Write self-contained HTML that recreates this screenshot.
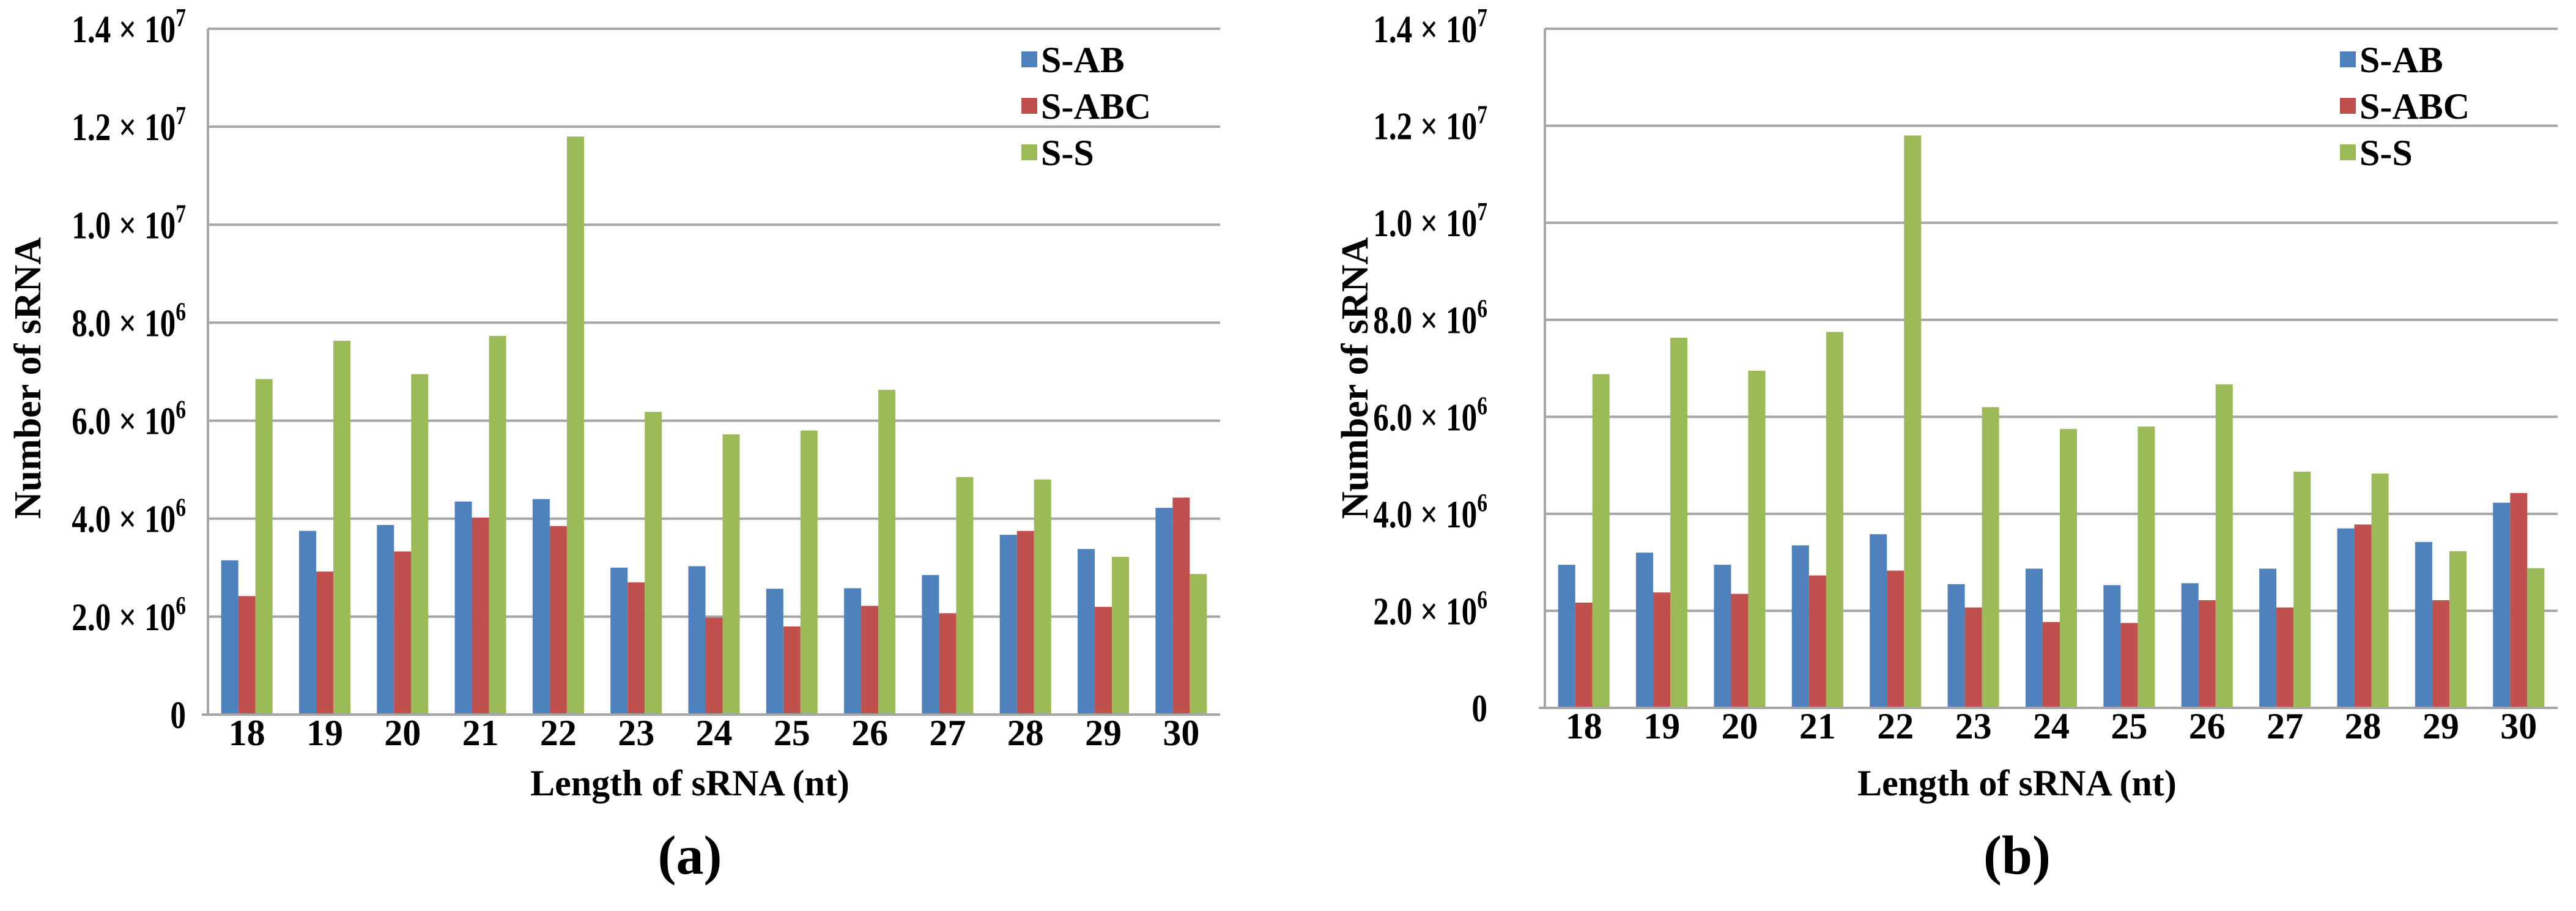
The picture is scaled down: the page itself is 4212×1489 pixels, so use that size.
<!DOCTYPE html>
<html><head><meta charset="utf-8"><style>
html,body{margin:0;padding:0;background:#fff;}
svg{display:block;font-family:"Liberation Serif",serif;font-weight:bold;}
</style></head><body>
<svg id="fig" width="4212" height="1489" viewBox="0 0 4212 1489" xmlns="http://www.w3.org/2000/svg"></svg>
<script>
const categories = ['18','19','20','21','22','23','24','25','26','27','28','29','30'];
const seriesNames = ['S-AB','S-ABC','S-S'];
const aSAB  = [3.15,3.75,3.87,4.35,4.4,3.0,3.03,2.57,2.58,2.85,3.67,3.38,4.22];
const aSABC = [2.42,2.92,3.33,4.02,3.85,2.7,1.98,1.8,2.22,2.07,3.75,2.2,4.43];
const aSS   = [6.85,7.63,6.95,7.73,11.8,6.18,5.72,5.8,6.63,4.85,4.8,3.22,2.87];
const bSAB  = [2.95,3.2,2.95,3.35,3.58,2.55,2.87,2.53,2.57,2.87,3.7,3.42,4.23];
const bSABC = [2.17,2.38,2.35,2.73,2.83,2.07,1.77,1.75,2.22,2.07,3.78,2.22,4.43];
const bSS   = [6.88,7.63,6.95,7.75,11.8,6.2,5.75,5.8,6.67,4.87,4.83,3.23,2.88];
const tickValues = [0,2,4,6,8,10,12,14];
const tickMant = ['0','2.0','4.0','6.0','8.0','1.0','1.2','1.4'];
const tickExp  = ['','6','6','6','6','7','7','7'];
const colors = ['#4F81BD','#C0504D','#9BBB59'];

const NS='http://www.w3.org/2000/svg';
const svg=document.getElementById('fig');
function mk(tag,attrs,parent){const e=document.createElementNS(NS,tag);for(const k in attrs)e.setAttribute(k,attrs[k]);(parent||svg).appendChild(e);return e;}

function chart(cfg){
  const g=mk('g',{});
  
  
  const L=cfg.left,R=cfg.right,T=cfg.top,B=cfg.bottom,maxV=14;
  const y=v=>B-(v/maxV)*(B-T);
  const cw=(R-L)/categories.length;
  const x=i=>L+i*cw;
  tickValues.forEach((v,i)=>{
    if(v>0){
      const gl=mk('line',{x1:L,x2:R,y1:y(v),y2:y(v),stroke:'#a6a6a6','stroke-width':4},g);
      
      
    }
    const t=mk('text',{x:0,y:0,'text-anchor':'end','font-size':64,fill:'#000',transform:`translate(${cfg.tickRight},${y(v)+22}) scale(0.8,1)`},g);
    
    
    if(tickExp[i]){
      t.textContent=tickMant[i]+' \u00d7 10';
      const s=mk('tspan',{'font-size':42,dy:-26},t);s.textContent=tickExp[i];
    } else t.textContent=tickMant[i];
  });
  const series=cfg.data;
  const bw=cw*0.22, off=(cw-3*bw)/2;
  series.forEach((arr,s)=>{
    arr.forEach((v,i)=>{
      const r=mk('rect',{x:x(i)+off+s*bw,y:y(v),width:bw,height:B-y(v),fill:colors[s]},g);
      
      
    });
  });
  const ya=mk('line',{x1:L,x2:L,y1:T,y2:B,stroke:'#a6a6a6','stroke-width':4},g);
  
  
  const xa=mk('line',{x1:L-10,x2:R,y1:B,y2:B,stroke:'#a6a6a6','stroke-width':4},g);
  
  
  categories.forEach((c,i)=>{
    const t=mk('text',{x:x(i)+cw/2,y:B+50,'text-anchor':'middle','font-size':60},g);
    
    
    t.textContent=c;
  });
  const xt=mk('text',{x:cfg.titleX,y:1300,'text-anchor':'middle','font-size':60},g);
  
  
  xt.textContent='Length of sRNA (nt)';
  const yt=mk('text',{x:0,y:0,'text-anchor':'middle','font-size':62,transform:`translate(${cfg.yTitleX},618) rotate(-90)`},g);
  
  
  yt.textContent='Number of sRNA';
  seriesNames.forEach((n,s)=>{
    const cy=[98,174,250][s];
    const sq=mk('rect',{x:cfg.legX,y:cy-14,width:26,height:26,fill:colors[s]},g);
    
    
    const t=mk('text',{x:cfg.legX+32,y:cy+20,'font-size':60},g);
    
    
    t.textContent=n;
  });
  const cap=mk('text',{x:cfg.titleX,y:1428,'text-anchor':'middle','font-size':90},g);
  
  
  cap.textContent=cfg.caption;
}
chart({name:'chart-a',left:340,right:1995,top:47,bottom:1168,tickRight:304,titleX:1128,yTitleX:66,legX:1670,data:[aSAB,aSABC,aSS],caption:'(a)'});
chart({name:'chart-b',left:2526,right:4182,top:47,bottom:1157,tickRight:2432,titleX:3298,yTitleX:2236,legX:3826,data:[bSAB,bSABC,bSS],caption:'(b)'});
</script>
</body></html>
